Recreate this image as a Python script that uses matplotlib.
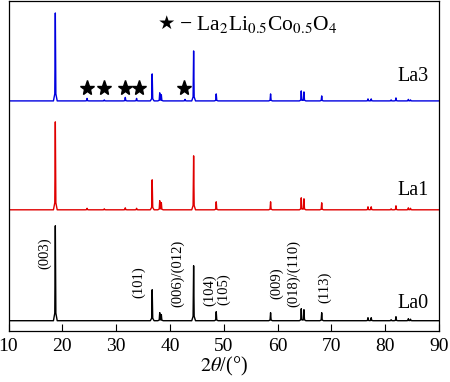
import matplotlib
matplotlib.use('Agg')
import matplotlib.pyplot as plt
import numpy as np

plt.rcParams['font.family'] = ['Liberation Serif', 'DejaVu Sans']
plt.rcParams['mathtext.fontset'] = 'stix'

# peak positions (2theta) and heights
pos_la0 = [18.7, 36.7, 38.1, 38.4, 44.4, 48.6, 58.7, 64.4, 64.9, 68.2, 76.8, 77.4, 81.1, 82.0, 84.3, 84.7]
h_la0 = [95, 31, 8, 6, 55, 9, 8, 12, 11, 8, 3, 3, 1, 4, 2, 1.5]

pos_la1 = [18.7, 24.6, 27.8, 31.7, 33.8, 36.7, 38.1, 38.4, 44.4, 48.6, 58.7, 64.4, 64.9, 68.2, 76.8, 77.4, 81.1, 82.0, 84.3, 84.7]
h_la1 = [88, 1.5, 1, 2, 1.5, 30, 9, 7, 54, 8, 8, 12, 11, 7, 3, 3, 1, 4, 2, 1.5]

pos_la3 = [18.7, 24.6, 27.8, 31.7, 33.8, 36.7, 38.1, 38.4, 42.8, 44.4, 48.6, 58.7, 64.4, 64.9, 68.2, 76.8, 77.4, 81.1, 82.0, 84.3, 84.7]
h_la3 = [88, 2.5, 1, 3.5, 2.5, 27, 8, 6, 1.5, 50, 7, 7, 10, 9, 5, 2, 2, 1, 3, 1.5, 1]

offsets = [10, 121, 230]
names = ['La0', 'La1', 'La3']
colors = ['black', '#e00000', '#0000e0']

# La2Li0.5Co0.5O4 impurity peaks (stars on La3)
star_pos = [24.6, 27.8, 31.7, 34.3, 42.6]

# hkl labels on La0
hkl = ['(003)', '(101)', '(006)/(012)', '(104)', '(105)', '(009)', '(018)/(110)', '(113)']
hkl_x = [16.7, 34.1, 41.4, 47.3, 50.0, 59.8, 63.0, 68.7]
hkl_y = [78, 49, 57, 41, 42, 48, 57, 43]


def trace(pos, hts, w=0.35):
    xs = [10.0, 90.0]
    for p in pos:
        xs += [p - w, p - 0.1, p, p + 0.1, p + w]
    xs = np.array(sorted(xs))
    ys = np.zeros_like(xs)
    for p, h in zip(pos, hts):
        ys += np.interp(xs, [p - w, p - 0.1, p, p + 0.1, p + w],
                        [0, 0.08 * h, h, 0.08 * h, 0], left=0, right=0)
    return xs, ys


fig = plt.figure(figsize=(4.5, 3.82), dpi=100)
ax = fig.add_axes([0.0189, 0.1343, 0.9567, 0.8631])

for (pos, hts), off, name, c, ty in zip(
        [(pos_la0, h_la0), (pos_la1, h_la1), (pos_la3, h_la3)],
        offsets, names, colors, [23, 136, 250]):
    xs, ys = trace(pos, hts)
    ax.plot(xs, ys + off, color=c, lw=1.0)
    ax.text(88.0, ty, name, ha='right', va='baseline', fontsize=14.5)

ax.plot(star_pos, [243] * len(star_pos), ls='none', marker='*', ms=11,
        color='black')

for t, x, y in zip(hkl, hkl_x, hkl_y):
    ax.text(x, y, t, rotation=90, ha='center', va='center', fontsize=10.5)

ax.text(0.366, 0.932, '★', transform=ax.transAxes, ha='center',
        va='center', fontsize=14, family='DejaVu Sans')
ax.text(0.397, 0.928, '\u2212 La$_2$Li$_{0.5}$Co$_{0.5}$O$_4$',
        transform=ax.transAxes, ha='left', va='center', fontsize=15.5)

ax.set_xlim(10, 90)
ax.set_ylim(0, 330)
ax.set_yticks([])
ax.set_xticks(range(10, 91, 10))
ax.tick_params(axis='x', direction='in', length=5, labelsize=14, pad=5)
ax.set_xlabel(r'$2\theta$/(°)', fontsize=14.5, labelpad=0)
for s in ax.spines.values():
    s.set_linewidth(0.9)

plt.savefig('out.png', dpi=100)
